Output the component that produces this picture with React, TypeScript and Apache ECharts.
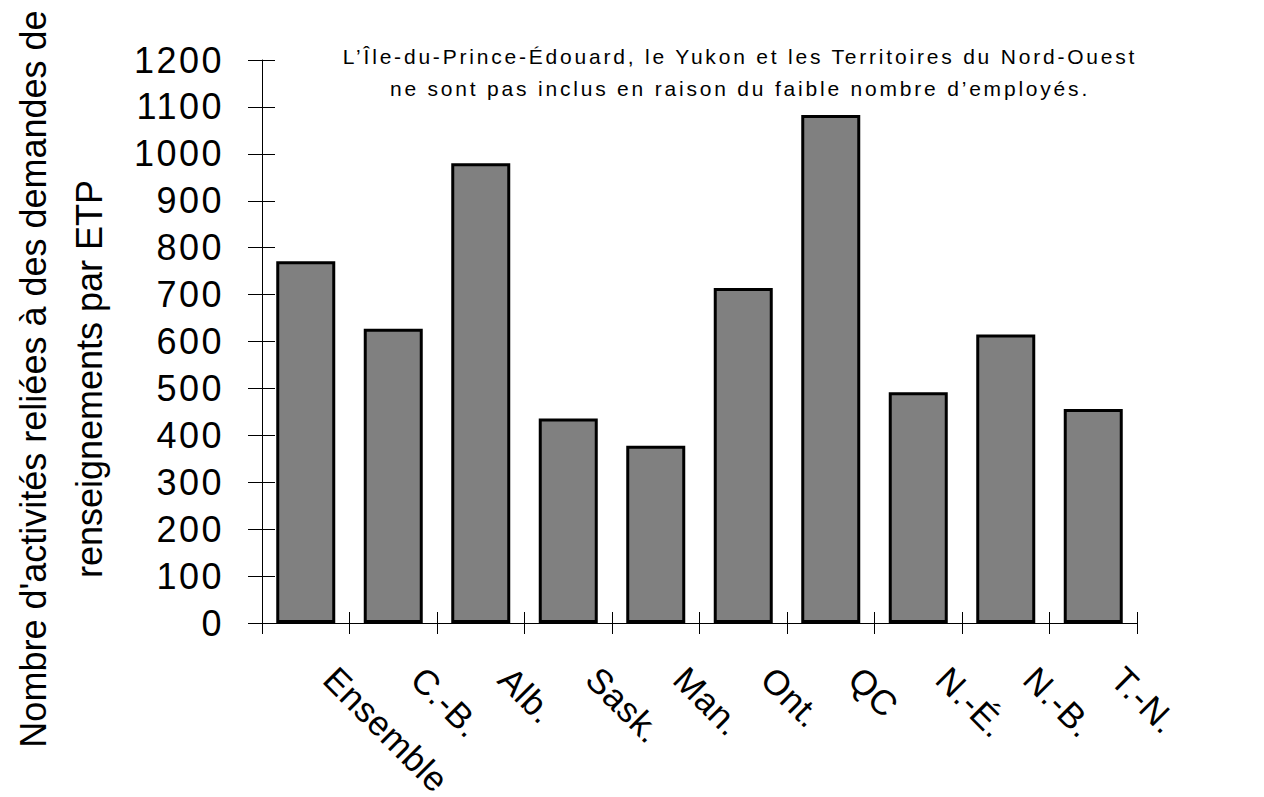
import React, { useEffect, useRef } from "react";
import * as echarts from "echarts";

const categories = ["Ensemble", "C.-B.", "Alb.", "Sask.", "Man.", "Ont.", "QC", "N.-É.", "N.-B.", "T.-N."];
const values = [771, 627, 980, 436, 378, 714, 1083, 492, 615, 456];
const yMin = 0;
const yMax = 1200;
const yStep = 100;
const titleLines = ["Nombre d'activités reliées à des demandes de", "renseignements par ETP"];
const noteLines = [
  "L’Île-du-Prince-Édouard, le Yukon et les Territoires du Nord-Ouest",
  "ne sont pas inclus en raison du faible nombre d’employés.",
];

const FONT = 'Arial, "Liberation Sans", Helvetica, sans-serif';

function applySpacing(root: HTMLElement) {
  root.querySelectorAll("text").forEach((t) => {
    const s = (t.textContent || "").trim();
    const el = t as unknown as SVGTextElement;
    if (/^\d+$/.test(s)) el.style.letterSpacing = "2.5px";
    else if (categories.includes(s)) el.style.letterSpacing = "0.5px";
    else if (noteLines.includes(s)) el.style.letterSpacing = "2.8px";
  });
}

export default function App() {
  const ref = useRef<HTMLDivElement>(null);
  useEffect(() => {
    if (!ref.current) return;
    const chart = echarts.init(ref.current, undefined, { renderer: "svg" });
    const axisCommon = { lineStyle: { color: "#000", width: 1 } };
    chart.setOption({
      animation: false,
      backgroundColor: "#fff",
      grid: {
        left: 262,
        right: 127,
        top: 60,
        bottom: 174,
        containLabel: false,
        outerBoundsMode: "none",
      },
      xAxis: [
        {
          type: "category",
          data: categories,
          position: "bottom",
          axisLine: { show: true, ...axisCommon },
          axisTick: { show: true, alignWithLabel: false, inside: false, length: 11, ...axisCommon },
          axisLabel: {
            interval: 0,
            rotate: -45,
            margin: 26,
            padding: [0, 0, 0, 34],
            align: "left",
            verticalAlign: "middle",
            fontSize: 35,
            fontFamily: FONT,
            color: "#000",
            hideOverlap: false,
          },
          splitLine: { show: false },
        },
        {
          type: "category",
          data: categories,
          position: "bottom",
          axisLine: { show: false },
          axisTick: { show: true, alignWithLabel: false, inside: true, length: 11, ...axisCommon },
          axisLabel: { show: false },
          splitLine: { show: false },
        },
      ],
      yAxis: [
        {
          type: "value",
          min: yMin,
          max: yMax,
          interval: yStep,
          position: "left",
          axisLine: { show: true, ...axisCommon },
          axisTick: { show: true, inside: false, length: 14, ...axisCommon },
          axisLabel: {
            margin: 38,
            fontSize: 36,
            fontFamily: FONT,
            color: "#000",
            formatter: (v: number) => String(v),
          },
          splitLine: { show: false },
        },
        {
          type: "value",
          min: yMin,
          max: yMax,
          interval: yStep,
          position: "left",
          axisLine: { show: false },
          axisTick: { show: true, inside: true, length: 13, ...axisCommon },
          axisLabel: { show: false },
          splitLine: { show: false },
        },
      ],
      series: [
        {
          type: "bar",
          data: values,
          xAxisIndex: 0,
          yAxisIndex: 0,
          barWidth: 59,
          silent: true,
          itemStyle: { color: "#808080", borderColor: "#000", borderWidth: 3 },
        },
      ],
      graphic: [
        {
          type: "text",
          x: 61,
          y: 379,
          rotation: Math.PI / 2,
          silent: true,
          style: {
            text: titleLines.join("\n"),
            fontSize: 36,
            fontFamily: FONT,
            fill: "#000",
            lineHeight: 56,
            align: "center",
            verticalAlign: "middle",
          },
        },
        {
          type: "text",
          x: 740,
          y: 56,
          silent: true,
          style: {
            text: noteLines[0],
            fontSize: 21,
            fontFamily: FONT,
            fill: "#000",
            align: "center",
            verticalAlign: "middle",
          },
        },
        {
          type: "text",
          x: 740,
          y: 88,
          silent: true,
          style: {
            text: noteLines[1],
            fontSize: 21,
            fontFamily: FONT,
            fill: "#000",
            align: "center",
            verticalAlign: "middle",
          },
        },
      ],
    });
    const root = ref.current;
    applySpacing(root);
    const onFinished = () => applySpacing(root);
    chart.on("finished", onFinished);
    const t = window.setTimeout(() => applySpacing(root), 50);
    return () => {
      window.clearTimeout(t);
      chart.off("finished", onFinished);
      chart.dispose();
    };
  }, []);
  return (
    <div
      ref={ref}
      style={{ position: "fixed", left: 0, top: 0, width: 1264, height: 797, background: "#fff" }}
    />
  );
}
